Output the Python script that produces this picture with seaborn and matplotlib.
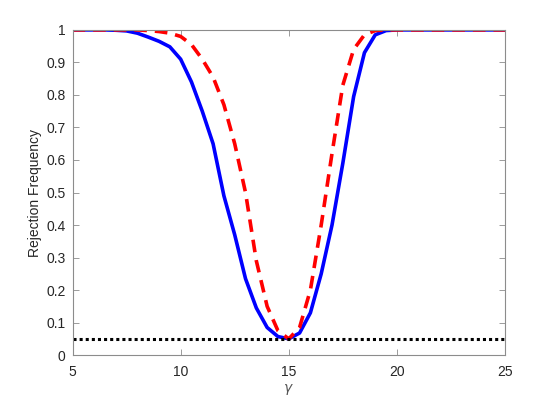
import numpy as np
import pandas as pd
import seaborn as sns
import matplotlib.pyplot as plt

# gamma grid and rejection frequencies
gamma = [5, 5.5, 6, 6.5, 7, 7.5, 8, 8.5, 9, 9.5, 10, 10.5, 11, 11.5, 12, 12.5,
         13, 13.5, 14, 14.5, 15, 15.5, 16, 16.5, 17, 17.5, 18, 18.5, 19, 19.5,
         20, 20.5, 21, 21.5, 22, 22.5, 23, 23.5, 24, 24.5, 25]
rej_solid = [1, 1, 1, 1, 0.999, 0.997, 0.99, 0.978, 0.965, 0.948, 0.91, 0.84,
             0.75, 0.65, 0.49, 0.37, 0.235, 0.145, 0.085, 0.057, 0.05, 0.068,
             0.13, 0.25, 0.40, 0.59, 0.795, 0.93, 0.985, 0.998, 1, 1, 1, 1, 1,
             1, 1, 1, 1, 1, 1]
rej_dashed = [1, 1, 1, 1, 1, 1, 1, 0.998, 0.995, 0.99, 0.98, 0.955, 0.91,
              0.855, 0.77, 0.65, 0.50, 0.29, 0.15, 0.075, 0.05, 0.085, 0.20,
              0.40, 0.62, 0.83, 0.94, 0.985, 0.998, 1, 1, 1, 1, 1, 1, 1, 1, 1,
              1, 1, 1]
nominal = 0.05

df = pd.DataFrame({'gamma': gamma, 'solid': rej_solid, 'dashed': rej_dashed})

sns.set_style("white")
plt.rcParams['font.family'] = ['Liberation Sans', 'DejaVu Sans']

fig = plt.figure(figsize=(5.58, 3.99), dpi=100)
ax = fig.add_axes([0.13, 0.11, 0.775, 0.815])

sns.lineplot(data=df, x='gamma', y='solid', ax=ax, color='#0000ff', linewidth=2.6)
sns.lineplot(data=df, x='gamma', y='dashed', ax=ax, color='#ff0000', linewidth=2.6,
             linestyle=(0, (3.5, 2.2)))
ax.axhline(nominal, color='black', linewidth=2.2, linestyle=(0, (1, 1)))

ax.set_xlim(5, 25)
ax.set_ylim(0, 1)
ax.set_xticks([5, 10, 15, 20, 25])
ax.set_yticks(np.arange(0, 1.01, 0.1))
ax.set_yticklabels(['0', '0.1', '0.2', '0.3', '0.4', '0.5', '0.6', '0.7', '0.8', '0.9', '1'])
grey = '#262626'
ax.set_xlabel(r'$\gamma$', fontsize=10, color='#555555', labelpad=2)
ax.set_ylabel('Rejection Frequency', fontsize=10, color=grey, labelpad=3)

for s in ax.spines.values():
    s.set_visible(True)
    s.set_color('#8c8c8c')
    s.set_linewidth(0.8)
ax.tick_params(direction='in', length=4, width=0.6, color='#8c8c8c',
               labelsize=10, labelcolor=grey, top=True, right=True,
               bottom=True, left=True)
ax.tick_params(axis='x', pad=7)
ax.tick_params(axis='y', pad=5)

fig.savefig('out.png', dpi=100)
